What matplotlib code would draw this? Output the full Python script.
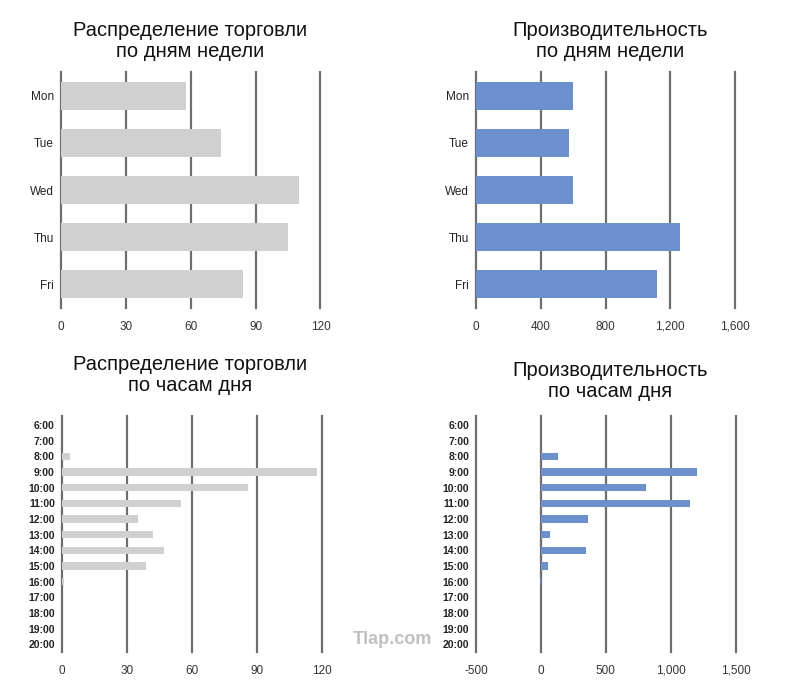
import matplotlib
matplotlib.use("Agg")
import matplotlib.pyplot as plt

# ── Data ────────────────────────────────────────────────
days = ["Mon", "Tue", "Wed", "Thu", "Fri"]
trades_by_day = [58, 74, 110, 105, 84]
perf_by_day = [600, 575, 600, 1260, 1120]

hours = ["6:00", "7:00", "8:00", "9:00", "10:00", "11:00", "12:00", "13:00",
         "14:00", "15:00", "16:00", "17:00", "18:00", "19:00", "20:00"]
trades_by_hour = [0, 0, 4, 118, 86, 55, 35, 42, 47, 39, 1, 0, 0, 0, 0]
perf_by_hour = [0, 0, 135, 1200, 810, 1145, 360, 70, 350, 55, -10, 0, 0, 0, 0]

day_ticks = [0, 30, 60, 90, 120]
day_perf_ticks = [0, 400, 800, 1200, 1600]
hour_ticks = [0, 30, 60, 90, 120]
hour_perf_ticks = [-500, 0, 500, 1000, 1500]

GRAY = "#d0d0d0"
BLUE = "#6c8fce"
GRID = "#6e6e6e"

plt.rcParams["font.family"] = ["Liberation Sans", "DejaVu Sans"]

W, H = 787, 692
fig = plt.figure(figsize=(W / 100, H / 100), dpi=100)


def px_axes(x0, x1, y0, y1):
    """Axes placed by pixel box (top-left origin)."""
    return fig.add_axes([x0 / W, 1 - y1 / H, (x1 - x0) / W, (y1 - y0) / H])


def style(ax, xticks, ylabels, ylim, yfont):
    ax.set_xlim(xticks[0], xticks[-1])
    ax.set_xticks(xticks)
    ax.set_xticklabels([f"{t:,}" for t in xticks], fontsize=8.5, color="#333333")
    ax.set_yticks(range(len(ylabels)))
    ax.set_yticklabels(ylabels, **yfont)
    ax.set_ylim(*ylim)
    ax.tick_params(length=0, axis="y", pad=5)
    ax.tick_params(length=0, axis="x", pad=9)
    for s in ax.spines.values():
        s.set_visible(False)
    for t in xticks:
        ax.axvline(t, color=GRID, lw=1.6, zorder=0, clip_on=False)


day_font = dict(fontsize=8.5, color="#222222")
hour_font = dict(fontsize=7.5, fontweight="bold", color="#222222")

# top-left: trades by day
ax = px_axes(61, 320.5, 72, 308)
ax.barh(range(len(days)), trades_by_day, height=0.59, color=GRAY, zorder=2)
style(ax, day_ticks, days, (4.5, -0.5), day_font)

# top-right: performance by day
ax = px_axes(476, 735, 72, 308)
ax.barh(range(len(days)), perf_by_day, height=0.59, color=BLUE, zorder=2)
style(ax, day_perf_ticks, days, (4.5, -0.5), day_font)

# bottom-left: trades by hour
ax = px_axes(61.7, 321.7, 416, 652)
ax.barh(range(len(hours)), trades_by_hour, height=0.47, color=GRAY, zorder=2)
style(ax, hour_ticks, hours, (14.5, -0.58), hour_font)

# bottom-right: performance by hour
ax = px_axes(476, 735.7, 416, 652)
ax.barh(range(len(hours)), perf_by_hour, height=0.47, color=BLUE, zorder=2)
style(ax, hour_perf_ticks, hours, (14.5, -0.58), hour_font)

# titles
title_kw = dict(ha="center", va="center", fontsize=14.5, color="#111111", linespacing=1.12)
fig.text(190 / W, 1 - 41 / H, "Распределение торговли\nпо дням недели", **title_kw)
fig.text(610 / W, 1 - 41 / H, "Производительность\nпо дням недели", **title_kw)
fig.text(190 / W, 1 - 375 / H, "Распределение торговли\nпо часам дня", **title_kw)
fig.text(610 / W, 1 - 381 / H, "Производительность\nпо часам дня", **title_kw)

# watermark
fig.text(392 / W, 1 - 640 / H, "Tlap.com", ha="center", va="center",
         fontsize=13, fontweight="bold", color="#c0c0c0")

fig.savefig("out.png", dpi=100)
